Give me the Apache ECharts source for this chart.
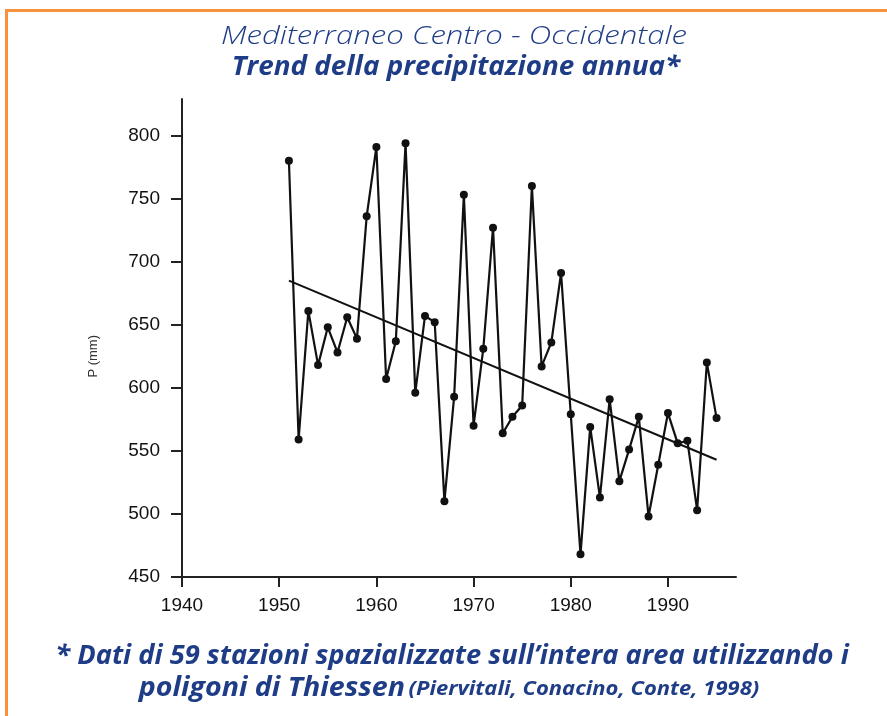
<!DOCTYPE html>
<html>
<head>
<meta charset="utf-8">
<script src="https://cdn.jsdelivr.net/npm/echarts@6/dist/echarts.min.js"></script>
<style>
  html, body { margin: 0; padding: 0; background: #fff; }
  #main { width: 887px; height: 716px; }
</style>
</head>
<body>
<div id="main"></div>
<script>
// anni e precipitazione annua (mm)
var years = [1951, 1952, 1953, 1954, 1955, 1956, 1957, 1958, 1959, 1960,
             1961, 1962, 1963, 1964, 1965, 1966, 1967, 1968, 1969, 1970,
             1971, 1972, 1973, 1974, 1975, 1976, 1977, 1978, 1979, 1980,
             1981, 1982, 1983, 1984, 1985, 1986, 1987, 1988, 1989, 1990,
             1991, 1992, 1993, 1994, 1995];
var precip = [780, 559, 661, 618, 648, 628, 656, 639, 736, 791,
              607, 637, 794, 596, 657, 652, 510, 593, 753, 570,
              631, 727, 564, 577, 586, 760, 617, 636, 691, 579,
              468, 569, 513, 591, 526, 551, 577, 498, 539, 580,
              556, 558, 503, 620, 576];
// retta di tendenza (estremi)
var trendYears = [1951, 1995];
var trendValues = [685, 543];
// assi: estensione del disegno e intervallo delle tacche
var xRange = [1940, 1997];
var xTickRange = [1940, 1990];
var yRange = [450, 829];
var yTickRange = [450, 800];

var blue = '#1f3d86';
var orange = '#f7913d';

var myChart = echarts.init(document.getElementById('main'));

var seriesData = [];
for (var i = 0; i < years.length; i++) {
    seriesData.push([years[i], precip[i]]);
}
var trendData = [];
for (var j = 0; j < trendYears.length; j++) {
    trendData.push([trendYears[j], trendValues[j]]);
}

function plain(v) {
    return String(v);
}

// area del grafico
var gLeft = 182, gRight = 151, gTop = 99, gBottom = 139;
var gWidth = 887 - gLeft - gRight;
var gHeight = 716 - gTop - gBottom;
// secondo grid solo per tacche ed etichette (senza tacca finale)
var tickWidth = gWidth * (xTickRange[1] - xTickRange[0]) / (xRange[1] - xRange[0]);
var tickTop = gTop + gHeight * (yRange[1] - yTickRange[1]) / (yRange[1] - yRange[0]);

var labelStyle = {
    formatter: plain,
    color: '#111',
    fontFamily: 'Liberation Sans',
    fontSize: 19
};

var option = {
    backgroundColor: '#fff',
    animation: false,
    grid: [
        { left: gLeft, right: gRight, top: gTop, bottom: gBottom },
        { left: gLeft, width: tickWidth, top: tickTop, bottom: gBottom }
    ],
    xAxis: [
        {
            type: 'value', gridIndex: 0,
            min: xRange[0], max: xRange[1],
            splitLine: { show: false },
            axisLine: { onZero: false, lineStyle: { color: '#222', width: 2 } },
            axisTick: { show: false },
            axisLabel: { show: false }
        },
        {
            type: 'value', gridIndex: 1,
            min: xTickRange[0], max: xTickRange[1], interval: 10,
            splitLine: { show: false },
            axisLine: { show: false, onZero: false },
            axisTick: { show: true, length: 10, lineStyle: { color: '#222', width: 2 } },
            axisLabel: Object.assign({ margin: 19 }, labelStyle)
        }
    ],
    yAxis: [
        {
            type: 'value', gridIndex: 0,
            min: yRange[0], max: yRange[1],
            splitLine: { show: false },
            axisLine: { show: true, lineStyle: { color: '#222', width: 2 } },
            axisTick: { show: false },
            axisLabel: { show: false }
        },
        {
            type: 'value', gridIndex: 1,
            min: yTickRange[0], max: yTickRange[1], interval: 50,
            name: 'P (mm)',
            nameLocation: 'middle',
            nameGap: 82,
            nameRotate: 90,
            nameTextStyle: { color: '#333', fontFamily: 'Liberation Sans', fontSize: 13 },
            splitLine: { show: false },
            axisLine: { show: false },
            axisTick: { show: true, length: 11, lineStyle: { color: '#222', width: 2 } },
            axisLabel: Object.assign({ margin: 22 }, labelStyle)
        }
    ],
    series: [
        {
            name: 'P',
            type: 'line',
            xAxisIndex: 0, yAxisIndex: 0,
            data: seriesData,
            symbol: 'circle',
            symbolSize: 8,
            itemStyle: { color: '#111' },
            lineStyle: { color: '#111', width: 2.2 }
        },
        {
            name: 'trend',
            type: 'line',
            xAxisIndex: 0, yAxisIndex: 0,
            data: trendData,
            symbol: 'none',
            lineStyle: { color: '#111', width: 2 }
        }
    ],
    graphic: [
        { type: 'rect', shape: { x: 6, y: 9, width: 881, height: 3 }, style: { fill: orange } },
        { type: 'rect', shape: { x: 5, y: 9, width: 3, height: 707 }, style: { fill: orange } },
        {
            type: 'text', x: 454, y: 24, scaleX: 1.2,
            style: {
                text: 'Mediterraneo Centro - Occidentale',
                align: 'center', verticalAlign: 'top',
                fill: blue, font: 'italic 300 26px "Open Sans"'
            }
        },
        {
            type: 'text', x: 456, y: 55, scaleX: 1.07,
            style: {
                text: 'Trend della precipitazione annua*',
                align: 'center', verticalAlign: 'top',
                fill: blue, font: 'italic bold 26px "Open Sans"'
            }
        },
        {
            type: 'text', x: 452, y: 644, scaleX: 1.05,
            style: {
                text: '* Dati di 59 stazioni spazializzate sull\u2019intera area utilizzando i',
                align: 'center', verticalAlign: 'top',
                fill: blue, font: 'italic bold 26px "Open Sans"'
            }
        },
        {
            type: 'text', x: 449, y: 676, scaleX: 1.1,
            style: {
                text: '{a|poligoni di Thiessen} {b|(Piervitali, Conacino, Conte, 1998)}',
                align: 'center', verticalAlign: 'top',
                fill: blue,
                rich: {
                    a: { fill: blue, font: 'italic bold 26px "Open Sans"' },
                    b: { fill: blue, font: 'italic bold 20px "Open Sans"' }
                }
            }
        }
    ]
};

myChart.setOption(option);
</script>
</body>
</html>
